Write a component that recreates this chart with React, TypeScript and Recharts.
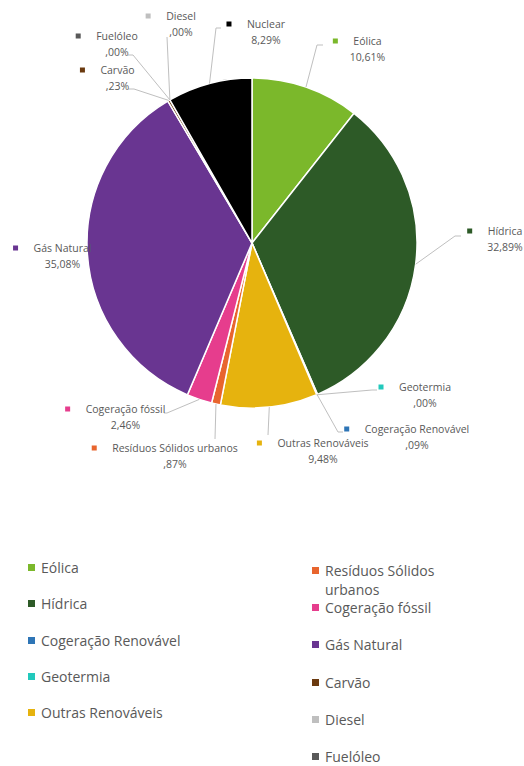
import React from 'react';
import { PieChart, Pie, Cell, Legend } from 'recharts';

const categories = [
  'Eólica',
  'Hídrica',
  'Cogeração Renovável',
  'Geotermia',
  'Outras Renováveis',
  'Resíduos Sólidos urbanos',
  'Cogeração fóssil',
  'Gás Natural',
  'Carvão',
  'Diesel',
  'Fuelóleo',
  'Nuclear',
];

const shares = [10.61, 32.89, 0.09, 0.0, 9.48, 0.87, 2.46, 35.08, 0.23, 0.0, 0.0, 8.29];

const colors = [
  '#7BB82B',
  '#2D5A27',
  '#2E75B6',
  '#22C9BC',
  '#E6B30E',
  '#E8652E',
  '#E63D8D',
  '#693591',
  '#6B3A0F',
  '#BFBFBF',
  '#595959',
  '#000000',
];

const data = categories.map((name, i) => ({ name, value: shares[i] }));

const W = 524;
const H = 766;
const FONT = '"Open Sans", "Noto Sans", sans-serif';
const TEXT = '#595959';
const LINE = '#BFBFBF';
const LABEL_SIZE = 10.5;
const LEGEND_TOP = 548;

// where each data label sits, relative to the pie centre, plus the bends of its leader line
const labelLayout: Record<string, { x: number; y: number; bend: [number, number][] }> = {
  'Eólica': { x: 115.5, y: -202, bend: [[65, -198], [71, -198]] },
  'Hídrica': { x: 253, y: -12, bend: [[203, -7], [209, -7]] },
  'Cogeração Renovável': { x: 165, y: 186, bend: [[86, 189], [91, 189]] },
  'Geotermia': { x: 173, y: 144, bend: [[120, 147], [125, 147]] },
  'Outras Renováveis': { x: 71, y: 200, bend: [[16, 192]] },
  'Resíduos Sólidos urbanos': { x: -77, y: 205, bend: [[-37, 196]] },
  'Cogeração fóssil': { x: -126.5, y: 166, bend: [[-85, 170], [-88, 170]] },
  'Gás Natural': { x: -189.5, y: 5, bend: [] },
  'Carvão': { x: -134.5, y: -173, bend: [[-118, -154], [-124, -154]] },
  'Diesel': { x: -71, y: -227, bend: [[-85, -206]] },
  'Fuelóleo': { x: -135, y: -207, bend: [[-119, -188], [-124, -188]] },
  'Nuclear': { x: 14, y: -219, bend: [[-36, -215], [-31, -215]] },
};

let ctx: CanvasRenderingContext2D | null = null;
function textWidth(s: string, size: number) {
  if (!ctx) ctx = document.createElement('canvas').getContext('2d');
  if (!ctx) return s.length * size * 0.52;
  ctx.font = `${size}px "Open Sans"`;
  return ctx.measureText(s).width;
}

const fmt = (v: number) => v.toFixed(2).replace('.', ',').replace(/^0/, '') + '%';

function renderLabel(props: any) {
  const { cx, cy, midAngle, outerRadius, name, value, index } = props;
  const lay = labelLayout[name];
  if (!lay) return null;
  const rad = Math.PI / 180;
  const ex = cx + outerRadius * Math.cos(-midAngle * rad);
  const ey = cy + outerRadius * Math.sin(-midAngle * rad);
  const tx = cx + lay.x;
  const ty = cy + lay.y;
  const w = textWidth(name, LABEL_SIZE);
  const pts = [[ex, ey], ...lay.bend.map(([bx, by]) => [cx + bx, cy + by])];
  return (
    <g key={`lbl-${index}`}>
      {pts.length > 1 && (
        <polyline
          points={pts.map((p) => p.join(',')).join(' ')}
          fill="none"
          stroke={LINE}
          strokeWidth={1}
        />
      )}
      <rect x={tx - w / 2 - 20.5} y={ty - 2.5} width={5} height={5} fill={colors[categories.indexOf(name)]} />
      <text x={tx} y={ty} textAnchor="middle" dominantBaseline="central" fontFamily={FONT} fontSize={LABEL_SIZE} fill={TEXT}>
        {name}
      </text>
      <text x={tx} y={ty + 16} textAnchor="middle" dominantBaseline="central" fontFamily={FONT} fontSize={LABEL_SIZE} fill={TEXT}>
        {fmt(value)}
      </text>
    </g>
  );
}

function LegendItem({ name, color, x, y, width }: { name: string; color: string; x: number; y: number; width: number }) {
  return (
    <div style={{ position: 'absolute', left: x, top: y - 9.65, width, display: 'flex', alignItems: 'flex-start' }}>
      <span style={{ width: 7, height: 7, background: color, marginTop: 6, marginRight: 6, flexShrink: 0 }} />
      <span style={{ lineHeight: '19.3px' }}>{name}</span>
    </div>
  );
}

function LegendBlock() {
  const rightRows = categories
    .slice(5)
    .map((n, j) => ({ n, c: colors[5 + j], y: 22.7 + 37.2 * j }))
    // the legend runs off the bottom of the picture; entries past the edge are not shown
    .filter((r) => LEGEND_TOP + r.y + 9 <= H);
  return (
    <div style={{ position: 'relative', width: W, height: H - LEGEND_TOP, fontFamily: FONT, fontSize: 14, color: TEXT }}>
      {categories.slice(0, 5).map((n, i) => (
        <LegendItem key={n} name={n} color={colors[i]} x={28} y={20 + 36.1 * i} width={240} />
      ))}
      {rightRows.map((r) => (
        <LegendItem key={r.n} name={r.n} color={r.c} x={312} y={r.y} width={140} />
      ))}
    </div>
  );
}

export default function App() {
  return (
    <div style={{ position: 'absolute', left: 0, top: 0, width: W, height: H, background: '#fff', overflow: 'hidden' }}>
      <PieChart width={W} height={H} margin={{ top: 0, right: 0, bottom: 0, left: 0 }}>
        {/* labels first so the slices sit on top of them */}
        <Pie
          data={data}
          dataKey="value"
          nameKey="name"
          cx={252}
          cy={243}
          outerRadius={165}
          startAngle={90}
          endAngle={-270}
          label={renderLabel}
          labelLine={false}
          legendType="none"
          isAnimationActive={false}
        >
          {data.map((d) => (
            <Cell key={d.name} fill="transparent" stroke="none" />
          ))}
        </Pie>
        <Pie
          data={data}
          dataKey="value"
          nameKey="name"
          cx={252}
          cy={243}
          outerRadius={165}
          startAngle={90}
          endAngle={-270}
          stroke="#ffffff"
          strokeWidth={1.5}
          isAnimationActive={false}
        >
          {data.map((d, i) => (
            <Cell key={d.name} fill={colors[i]} />
          ))}
        </Pie>
        <Legend
          verticalAlign="bottom"
          wrapperStyle={{ top: LEGEND_TOP, left: 0, width: W }}
          content={() => <LegendBlock />}
        />
      </PieChart>
    </div>
  );
}
